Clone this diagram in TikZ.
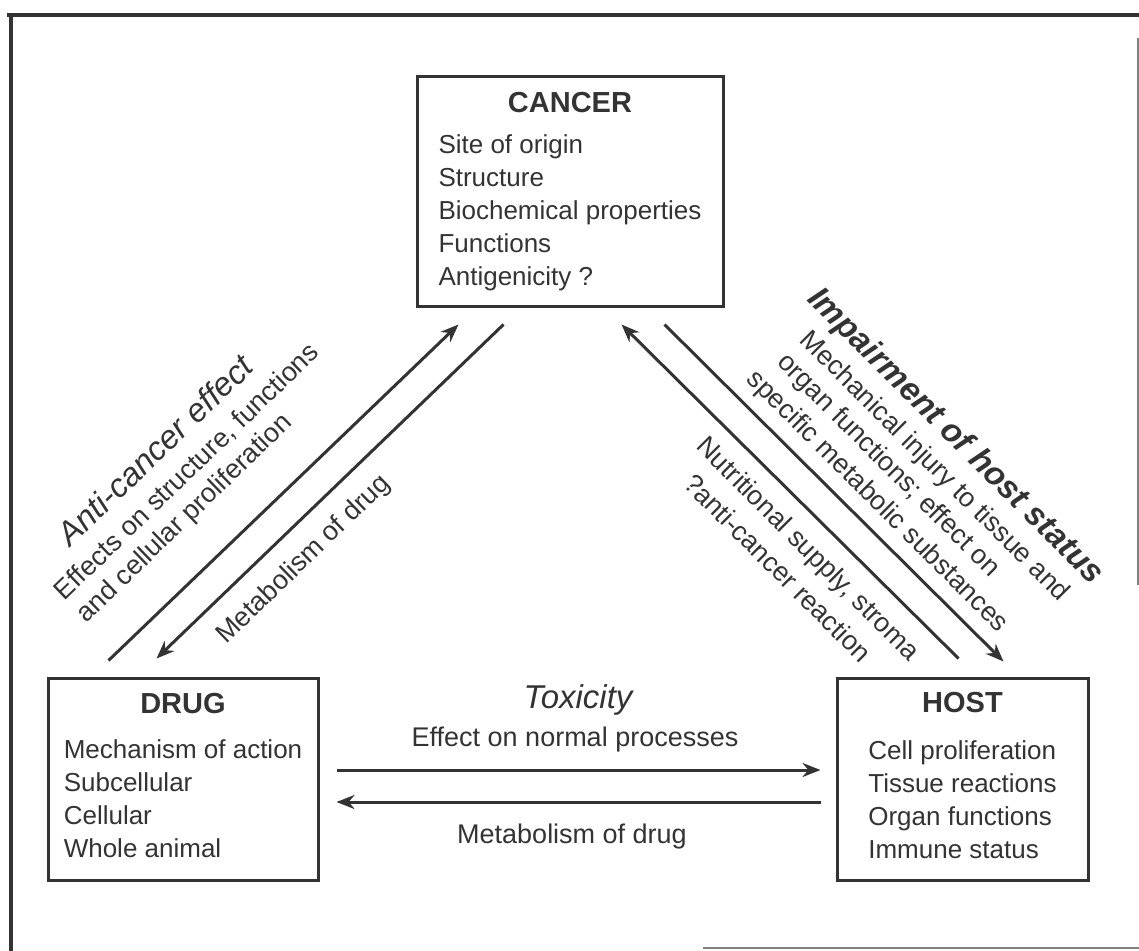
\documentclass[tikz,border=0pt]{standalone}
\usepackage{fontspec}
\setmainfont{Liberation Sans}
\usetikzlibrary{arrows.meta,calc}
\definecolor{ink}{HTML}{333333}

\begin{document}
\begin{tikzpicture}[x=0.5pt, y=-0.5pt, ink, line width=1.5pt,
    box/.style={draw, rectangle, inner sep=0pt, font=\fontsize{13}{16.5}\selectfont},
    title/.style={font=\fontsize{14.5}{16.5}\selectfont\bfseries},
    lbl/.style={inner sep=0pt, font=\fontsize{13.5}{16}\selectfont},
    head/.style={inner sep=0pt, font=\fontsize{16.5}{18}\selectfont\itshape},
    arr/.style={-{Stealth[length=9pt,width=7pt]}}]

  \useasboundingbox (0,0) rectangle (1139,951);

  % frame of the scan
  \draw[line width=2pt] (7,15) -- (1139,15);
  \draw[line width=2pt] (11,13) -- (11,951);
  \draw[gray, line width=0.6pt] (1138,38) -- (1138,585);
  \draw[gray, line width=0.6pt] (703,948) -- (1139,948);

  \node[box, minimum width=153pt, minimum height=115pt] (cancer) at (570,192)
    {\begin{tabular}{@{}l@{}}\multicolumn{1}{@{}c@{}}{\fontsize{14.5}{16.5}\selectfont\bfseries CANCER}\\[4pt]
     Site of origin\\ Structure\\ Biochemical properties\\ Functions\\ Antigenicity ?\end{tabular}};
  \node[box, minimum width=135pt, minimum height=101pt] (drug) at (183,779)
    {\begin{tabular}{@{}l@{}}\multicolumn{1}{@{}c@{}}{\fontsize{14.5}{16.5}\selectfont\bfseries DRUG}\\[6pt]
     Mechanism of action\\ Subcellular\\ Cellular\\ Whole animal\end{tabular}};
  \node[box, minimum width=125.5pt, minimum height=101pt] (host) at (962.5,779)
    {\begin{tabular}{@{}l@{}}\multicolumn{1}{@{}c@{}}{\fontsize{14.5}{16.5}\selectfont\bfseries HOST}\\[7pt]
     Cell proliferation\\ Tissue reactions\\ Organ functions\\ Immune status\end{tabular}};

  % drug <-> cancer
  \draw[arr] ($(drug.north west)+(62,-16)$) -- ($(cancer.south west)+(43,16)$);
  \draw[arr] ($(cancer.south west)+(88,16)$) -- ($(drug.north west)+(110,-18)$);
  \node[head, rotate=44] (anti) at (155,450) {Anti-cancer effect};
  \node[lbl, rotate=44] (effects) at (187,472) {Effects on structure, functions};
  \node[lbl, rotate=44] (cellular) at (185,519) {and cellular proliferation};
  \node[lbl, rotate=44] (metabup) at (304,560) {Metabolism of drug};

  % host <-> cancer
  \draw[arr] ($(host.north west)+(123,-18)$) -- ($(cancer.south east)+(-103,16)$);
  \draw[arr] ($(cancer.south east)+(-60,16)$) -- ($(host.north west)+(168,-15)$);
  \node[head, font=\fontsize{16.5}{18}\selectfont\bfseries\itshape, rotate=-45] (impair) at (955,437) {Impairment of host status};
  \node[lbl, rotate=-45] (injury) at (934,467) {Mechanical injury to tissue and};
  \node[lbl, rotate=-45] (organ) at (888,466) {organ functions; effect on};
  \node[lbl, rotate=-45] (specific) at (877,502) {specific metabolic substances};
  \node[lbl, rotate=-45] (nutrition) at (807,550) {Nutritional supply, stroma};
  \node[lbl, rotate=-45] (reaction) at (778,568) {?anti-cancer reaction};

  % drug <-> host
  \draw[arr] ($(drug.east)+(17,-9)$) -- ($(host.west)+(-15,-9)$);
  \draw[arr] ($(host.west)+(-15,23)$) -- ($(drug.east)+(17,23)$);
  \node[head] (toxicity) at (578,700) {Toxicity};
  \node[lbl] (normal) at (575,740) {Effect on normal processes};
  \node[lbl] (metabdown) at (572,837) {Metabolism of drug};

\end{tikzpicture}
\end{document}
